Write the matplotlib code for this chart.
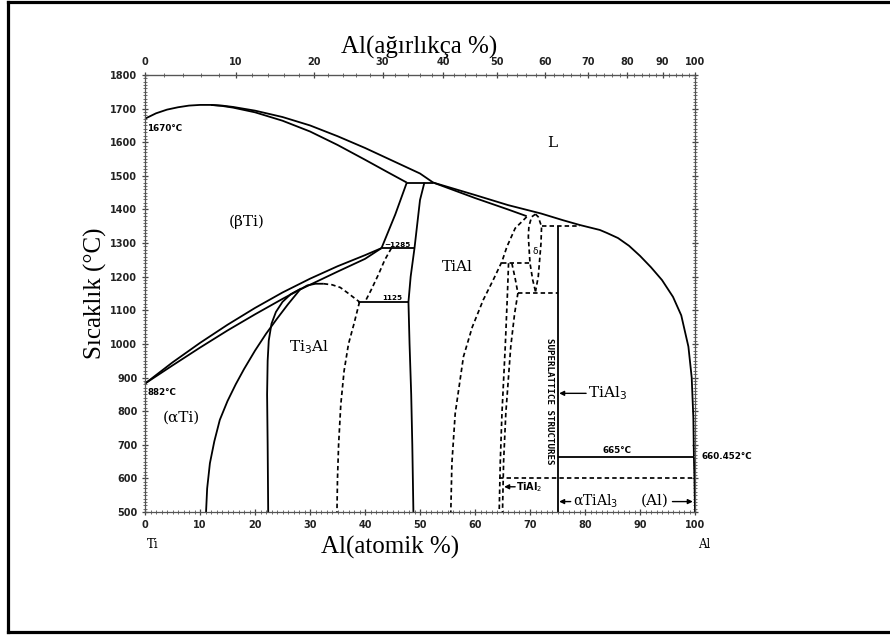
import numpy as np
import matplotlib
matplotlib.use("Agg")
import matplotlib.pyplot as plt
from matplotlib.ticker import MultipleLocator, FixedLocator
from matplotlib.lines import Line2D

# ---------------- data (at.% Al, temperature in degC) ----------------
at_ticks = [0, 10, 20, 30, 40, 50, 60, 70, 80, 90, 100]
wt_ticks = [0, 10, 20, 30, 40, 50, 60, 70, 80, 90, 100]
temp_ticks = [500, 600, 700, 800, 900, 1000, 1100, 1200, 1300, 1400, 1500, 1600, 1700, 1800]

liquidus_x = [0, 2, 4, 6, 8, 10, 12, 14, 16, 20, 25, 30, 35, 40, 45, 50, 52.4, 60, 66, 72, 76,
              79, 82.7, 84, 86, 88, 90, 92, 94, 96, 97.5, 98.8, 99.4, 99.7, 99.8]
liquidus_T = [1670, 1686, 1697, 1704, 1709, 1711, 1711, 1709, 1705, 1694, 1675, 1650, 1618, 1583,
              1545, 1507, 1480, 1443, 1413, 1388, 1368, 1354, 1339, 1330, 1315, 1292, 1262, 1228,
              1190, 1140, 1085, 992, 900, 780, 665]
beta_solidus_x = [12, 14, 16, 20, 25, 30, 35, 40, 44, 47.6]
beta_solidus_T = [1711, 1708, 1703, 1689, 1664, 1632, 1592, 1548, 1512, 1480]
peritectic_x = [47.6, 52.4]
peritectic_T = [1480, 1480]
tial_solidus_x = [52.4, 60, 66, 69.4]
tial_solidus_T = [1480, 1434, 1400, 1380]
beta_transus_x = [47.6, 45.5, 43.0]
beta_transus_T = [1480, 1385, 1285]
tial_left_x = [50.8, 50.0, 49.0, 48.3, 47.9, 48.1, 48.4, 48.6, 48.8]
tial_left_T = [1480, 1428, 1285, 1200, 1125, 1000, 850, 700, 500]
eut1285_x = [43.0, 49.0]
eut1285_T = [1285, 1285]
alpha_up_x = [0, 5, 10, 15, 20, 25, 30, 35, 40, 43.0]
alpha_up_T = [882, 945, 1003, 1057, 1107, 1153, 1194, 1231, 1264, 1285]
alpha_lo_x = [0, 5, 10, 15, 20, 25, 28.2, 30, 35, 40, 43.0]
alpha_lo_T = [882, 936, 989, 1040, 1088, 1134, 1162, 1176, 1215, 1253, 1285]
dome_solid_x = [28.2, 29.5, 31.0, 32.5]
dome_solid_T = [1162, 1174, 1179, 1179]
dome_dash_x = [32.5, 34, 35.5, 37, 38.5, 39.0]
dome_dash_T = [1179, 1176, 1168, 1150, 1131, 1125]
eut1125_x = [38.8, 47.9]
eut1125_T = [1125, 1125]
alpha_a2_x = [28.2, 26.0, 24.0, 22.0, 20.0, 18.0, 16.5, 15.0, 13.6, 12.6, 11.8, 11.3, 11.1]
alpha_a2_T = [1162, 1118, 1075, 1030, 980, 925, 880, 830, 774, 710, 645, 570, 500]
a2_left_x = [28.4, 26.5, 25.0, 23.8, 23.0, 22.5, 22.3, 22.2, 22.3, 22.4]
a2_left_T = [1165, 1148, 1125, 1095, 1060, 1010, 950, 850, 700, 500]
a2_right_x = [39.0, 38.0, 37.0, 36.2, 35.6, 35.2, 35.0, 34.9]
a2_right_T = [1125, 1060, 1000, 920, 820, 700, 600, 500]
alpha_dash_x = [44.8, 43.6, 42.4, 41.1, 40.0]
alpha_dash_T = [1285, 1250, 1205, 1160, 1125]
tial_right_x = [69.4, 67.3, 65.8, 64.9, 63.3, 61.5, 59.5, 57.9, 56.4, 55.8, 55.6]
tial_right_T = [1378, 1344, 1289, 1245, 1190, 1131, 1050, 962, 793, 645, 500]
h1240_x = [64.9, 70.0]
h1240_T = [1240, 1240]
delta_left_x = [71.0, 70.3, 69.8, 69.7, 70.0, 70.5, 71.0]
delta_left_T = [1386, 1378, 1350, 1319, 1240, 1190, 1156]
delta_right_x = [71.0, 71.5, 72.1, 72.0, 71.8, 71.5, 71.0]
delta_right_T = [1386, 1378, 1349, 1300, 1259, 1200, 1156]
h1350_x = [72.1, 79.0]
h1350_T = [1350, 1350]
tial3_x = [75, 75]
tial3_T = [1350, 500]
h1150_x = [67.8, 75]
h1150_T = [1151, 1151]
tial2_a_x = [66.1, 65.9, 65.5, 64.9, 64.6, 64.4]
tial2_a_T = [1240, 1150, 992, 793, 650, 500]
tial2_b_x = [66.7, 67.3, 67.8, 67.2, 66.5, 65.6, 65.2, 65.0]
tial2_b_T = [1240, 1195, 1151, 1090, 992, 793, 650, 500]
h600_x = [64.4, 100]
h600_T = [600, 600]
h665_x = [75, 99.8]
h665_T = [665, 665]
al_solvus_x = [99.8, 99.9, 100]
al_solvus_T = [665, 600, 500]

# ---------------- figure ----------------
W, H = 890, 637
fig = plt.figure(figsize=(W / 100, H / 100), dpi=100)
fig.patch.set_facecolor("white")
ax = fig.add_axes([145 / W, 1 - 512 / H, 550 / W, 437 / H])
ax.set_xlim(0, 100)
ax.set_ylim(500, 1800)

def P(x, y):
    return (x / W, 1 - y / H)

# outer frame (left, top, bottom)
for xs, ys in [([8, 8], [2, 632]), ([8, 890], [2, 2]), ([8, 890], [632, 632])]:
    fig.add_artist(Line2D([v / W for v in xs], [1 - v / H for v in ys],
                          transform=fig.transFigure, color="black", lw=2.3))

LW = 1.3
DASH = (0, (2.6, 1.8))
solid = [
    (liquidus_x, liquidus_T), (beta_solidus_x, beta_solidus_T), (peritectic_x, peritectic_T),
    (tial_solidus_x, tial_solidus_T), (beta_transus_x, beta_transus_T),
    (tial_left_x, tial_left_T), (eut1285_x, eut1285_T), (alpha_up_x, alpha_up_T),
    (alpha_lo_x, alpha_lo_T), (dome_solid_x, dome_solid_T), (eut1125_x, eut1125_T),
    (alpha_a2_x, alpha_a2_T), (a2_left_x, a2_left_T), (tial3_x, tial3_T),
    (h665_x, h665_T), (al_solvus_x, al_solvus_T),
]
dashed = [
    (dome_dash_x, dome_dash_T), (a2_right_x, a2_right_T), (alpha_dash_x, alpha_dash_T),
    (tial_right_x, tial_right_T), (h1240_x, h1240_T), (delta_left_x, delta_left_T),
    (delta_right_x, delta_right_T), (h1350_x, h1350_T), (h1150_x, h1150_T),
    (tial2_a_x, tial2_a_T), (tial2_b_x, tial2_b_T), (h600_x, h600_T),
]
for xs, ts in solid:
    ax.plot(xs, ts, color="black", lw=LW, solid_capstyle="butt", solid_joinstyle="round",
            clip_on=False)
for xs, ts in dashed:
    ax.plot(xs, ts, color="black", lw=LW * 0.95, linestyle=DASH, clip_on=False)

# ---------------- axes styling ----------------
for s in ax.spines.values():
    s.set_color("#555555")
    s.set_linewidth(0.9)
ax.xaxis.set_major_locator(FixedLocator(at_ticks))
ax.xaxis.set_minor_locator(MultipleLocator(1))
ax.yaxis.set_major_locator(FixedLocator(temp_ticks))
ax.yaxis.set_minor_locator(MultipleLocator(10))
ax.set_xticklabels([str(v) for v in at_ticks])
ax.set_yticklabels([str(v) for v in temp_ticks])
ax.tick_params(axis="both", which="major", direction="inout", length=5, width=0.9,
               color="#444444", labelsize=7, pad=3)
ax.tick_params(axis="both", which="minor", direction="inout", length=2.2, width=0.6,
               color="#555555")
ax.tick_params(axis="y", which="both", right=True)
ax.tick_params(axis="x", which="both", top=False)
for lab in ax.get_xticklabels() + ax.get_yticklabels():
    lab.set_fontweight("bold")
    lab.set_color("#222222")

MA, MB = 26.98, 47.87

def at2wt(a):
    a = np.asarray(a, float)
    with np.errstate(all="ignore"):
        return 100 * a * MA / (a * MA + (100 - a) * MB)

def wt2at(w):
    w = np.asarray(w, float)
    with np.errstate(all="ignore"):
        return 100 * (w / MA) / ((w / MA) + (100 - w) / MB)

sec = ax.secondary_xaxis("top", functions=(at2wt, wt2at))
sec.xaxis.set_major_locator(FixedLocator(wt_ticks))
sec.xaxis.set_minor_locator(MultipleLocator(2))
sec.set_xticks(wt_ticks)
sec.set_xticklabels([str(v) for v in wt_ticks])
sec.tick_params(which="major", direction="inout", length=5, width=0.9, color="#444444",
                labelsize=7, pad=3)
sec.tick_params(which="minor", direction="inout", length=2.2, width=0.6, color="#555555")
sec.spines["top"].set_color("#555555")
for lab in sec.get_xticklabels():
    lab.set_fontweight("bold")
    lab.set_color("#222222")

# ---------------- axis titles ----------------
serif = "Liberation Serif"
fig.text(*P(419, 47), "Al(ağırlıkça %)", family=serif, fontsize=18, ha="center", va="center")
fig.text(*P(390, 547), "Al(atomik %)", family=serif, fontsize=18, ha="center", va="center")
fig.text(*P(95, 293), "Sıcaklık (°C)", family=serif, fontsize=18, ha="center", va="center",
         rotation=90)
fig.text(*P(153, 545), "Ti", family="DejaVu Serif", fontsize=8.5, ha="center", va="center")
fig.text(*P(704, 545), "Al", family="DejaVu Serif", fontsize=8.5, ha="center", va="center")

# ---------------- region labels ----------------
rs = dict(family="DejaVu Serif", fontsize=11, ha="center", va="center")
ax.text(18.4, 1363, "(βTi)", **rs)
ax.text(6.7, 780, "(αTi)", **rs)
ax.text(29.8, 991, "Ti$_3$Al", **rs)
ax.text(56.8, 1230, "TiAl", **rs)
ax.text(74.0, 1597, "L", **rs)

sm = dict(family="DejaVu Sans", fontweight="bold", fontsize=6.3, va="center")
ax.text(0.4, 1642, "1670°C", ha="left", **sm)
ax.text(0.4, 856, "882°C", ha="left", **sm)
ax.text(85.8, 683, "665°C", ha="center", **sm)
ax.text(101.2, 665, "660.452°C", ha="left", clip_on=False, **sm)
ax.text(45.9, 1295, "~1285", ha="center", family="DejaVu Sans", fontweight="bold",
        fontsize=5.2, va="center")
ax.text(44.9, 1138, "1125", ha="center", family="DejaVu Sans", fontweight="bold",
        fontsize=5.2, va="center")
ax.text(70.9, 1274, "δ", ha="center", family="DejaVu Sans", fontsize=6.5, va="center")
ax.text(73.6, 830, "SUPERLATTICE STRUCTURES", family="DejaVu Sans Mono", fontweight="bold",
        fontsize=6.6, rotation=270, ha="center", va="center")

arr = dict(arrowstyle="-|>", color="black", lw=1.0, mutation_scale=7, shrinkA=0, shrinkB=0)
ax.annotate("", xy=(75.3, 853), xytext=(80.2, 853), arrowprops=arr)
ax.text(80.6, 853, "TiAl$_3$", family="DejaVu Serif", fontsize=11, ha="left", va="center")
ax.annotate("", xy=(65.3, 575), xytext=(67.3, 575), arrowprops=arr)
ax.text(67.4, 575, "TiAl$_2$", family="DejaVu Sans", fontweight="bold", fontsize=7,
        ha="left", va="center")
ax.annotate("", xy=(75.3, 531), xytext=(77.4, 531), arrowprops=arr)
ax.text(77.9, 531, "αTiAl$_3$", family="DejaVu Serif", fontsize=10, ha="left", va="center")
ax.text(92.7, 533, "(Al)", family="DejaVu Serif", fontsize=11, ha="center", va="center")
ax.annotate("", xy=(99.6, 531), xytext=(95.9, 531), arrowprops=arr)

fig.savefig("out.png", dpi=100, facecolor="white")
